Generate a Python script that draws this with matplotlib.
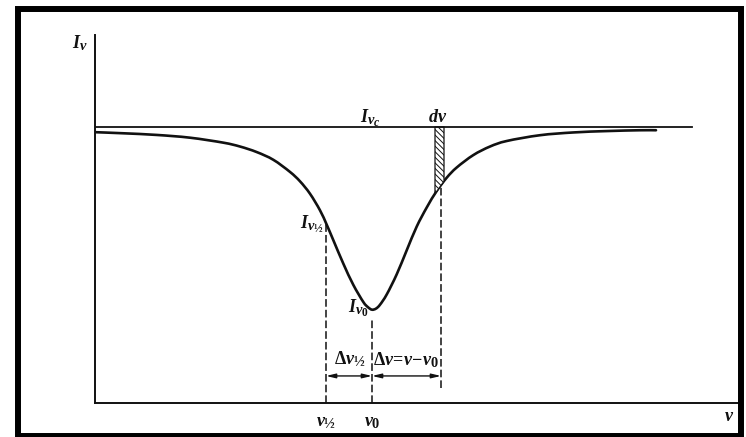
import numpy as np
import matplotlib
matplotlib.use("Agg")
import matplotlib.pyplot as plt
import matplotlib._mathtext as _mt
from matplotlib.patches import Rectangle, PathPatch
from matplotlib.path import Path

# Absorption line profile I(nu), continuum normalised to 1
nu = [0.0, 2.83, 6.17, 9.5, 12.83, 14.5, 16.17, 17.83, 19.5, 20.5, 21.5, 22.5,
      23.17, 23.83, 24.83, 25.83, 26.83, 27.3, 27.7, 28.1, 28.5, 29.17, 30.17,
      31.17, 32.17, 33.17, 34.17, 35.17, 36.17, 37.83, 39.5, 41.17, 44.5,
      47.83, 51.17, 54.5, 56.1]
intensity = [0.981, 0.977, 0.971, 0.961, 0.943, 0.929, 0.909, 0.881, 0.837,
             0.803, 0.758, 0.698, 0.646, 0.590, 0.505, 0.428, 0.366, 0.347,
             0.338, 0.342, 0.356, 0.393, 0.466, 0.553, 0.639, 0.708, 0.768,
             0.816, 0.853, 0.898, 0.929, 0.949, 0.970, 0.980, 0.985, 0.988,
             0.988]

continuum_level = 1.0
continuum_end = 59.7
nu0 = 27.7            # line centre
nu_half = 23.1        # half-intensity frequency
nu_dnu = 34.6         # frequency of the slice d(nu)
dnu_lo, dnu_hi = 34.0, 34.9
I_0 = 0.338
I_half = 0.651

plt.rcParams['mathtext.fontset'] = 'custom'
plt.rcParams['mathtext.rm'] = 'Liberation Serif:bold'
plt.rcParams['mathtext.it'] = 'Liberation Serif:italic:bold'
plt.rcParams['mathtext.bf'] = 'Liberation Serif:bold'
plt.rcParams['hatch.linewidth'] = 0.7
_mt.SHRINK_FACTOR = 0.8   # larger sub/superscripts


def smooth_path(xs, ys):
    """Cubic Bezier path through the points (Catmull-Rom tangents)."""
    p = np.column_stack([xs, ys])
    n = len(p)
    verts = [p[0]]
    codes = [Path.MOVETO]
    for i in range(n - 1):
        p0 = p[i - 1] if i > 0 else p[i]
        p1, p2 = p[i], p[i + 1]
        p3 = p[i + 2] if i + 2 < n else p[i + 1]
        c1 = p1 + (p2 - p0) / 6.0
        c2 = p2 - (p3 - p1) / 6.0
        verts += [c1, c2, p2]
        codes += [Path.CURVE4] * 3
    return Path(verts, codes)


W, H = 746, 437
fig = plt.figure(figsize=(W / 100, H / 100), dpi=100)
fig.patch.set_facecolor('white')

ax = fig.add_axes([95 / W, 1 - 403 / H, (738 - 95) / W, (403 - 35) / H])
ax.set_xlim(0, 64.3)
ax.set_ylim(0, 1.333)
for side in ('top', 'right'):
    ax.spines[side].set_visible(False)
for side in ('left', 'bottom'):
    ax.spines[side].set_linewidth(1.4)
    ax.spines[side].set_color('#111111')
ax.set_xticks([])
ax.set_yticks([])

ink = '#111111'
fs = 13

# continuum and line profile
ax.plot([0, continuum_end], [continuum_level, continuum_level], color=ink, lw=1.3)
ax.add_patch(PathPatch(smooth_path(nu, intensity), facecolor='none',
                       edgecolor=ink, lw=1.9, capstyle='round', joinstyle='round'))

# hatched slice d(nu)
xs = np.array([dnu_lo, dnu_hi])
ax.fill_between(xs, np.interp(xs, nu, intensity), continuum_level,
                facecolor='white', edgecolor=ink, hatch='\\\\\\\\\\\\', lw=0.9)

# guide lines
dash = (0, (5, 2))
ax.plot([nu_half, nu_half], [0, I_half], color=ink, lw=1.1, linestyle=dash)
ax.plot([nu0, nu0], [0, I_0 - 0.03], color=ink, lw=1.1, linestyle=dash)
ax.plot([nu_dnu, nu_dnu], [0.054, np.interp(nu_dnu, nu, intensity)],
        color=ink, lw=1.1, linestyle=dash)

# width arrows
arrow_y = 0.098
arrow_kw = dict(arrowstyle='<|-|>,head_length=0.55,head_width=0.13',
                color=ink, lw=1.0, shrinkA=0, shrinkB=0)
ax.annotate('', xy=(nu_half, arrow_y), xytext=(nu0, arrow_y), arrowprops=arrow_kw)
ax.annotate('', xy=(nu0, arrow_y), xytext=(nu_dnu, arrow_y), arrowprops=arrow_kw)

# labels
ax.text(-1.5, 1.286, r'$I_\nu$', fontsize=fs, ha='center', va='baseline',
        color=ink, clip_on=False)
ax.text(27.5, 1.018, r'$I_{\nu_c}$', fontsize=fs, ha='center', va='baseline', color=ink)
ax.text(34.3, 1.018, r'$d\nu$', fontsize=fs, ha='center', va='baseline', color=ink)
ax.text(22.85, 0.634, r'$I_{\nu_{½}}$', fontsize=fs, ha='right', va='baseline', color=ink)
ax.text(27.35, 0.330, r'$I_{\nu_0}$', fontsize=fs, ha='right', va='baseline', color=ink)
ax.text(25.5, 0.138, r'$\Delta\nu_{½}$', fontsize=fs, ha='center', va='baseline', color=ink)
ax.text(31.15, 0.138, r'$\Delta\nu\!=\!\nu\!-\!\nu_0$', fontsize=fs, ha='center',
        va='baseline', color=ink)
ax.annotate(r'$\nu_{½}$', xy=(nu_half, 0), xytext=(0, -14), textcoords='offset points',
            fontsize=fs, ha='center', va='center', color=ink, annotation_clip=False)
ax.annotate(r'$\nu_0$', xy=(nu0, 0), xytext=(0, -14), textcoords='offset points',
            fontsize=fs, ha='center', va='center', color=ink, annotation_clip=False)
ax.text(63.4, -0.047, r'$\nu$', fontsize=fs, ha='center', va='center', color=ink,
        clip_on=False)

# page frame
fig.patches.append(Rectangle((17.5 / W, 1 - 436 / H), (741 - 17.5) / W, (436 - 9) / H,
                             transform=fig.transFigure, fill=False,
                             edgecolor='black', lw=4.3))

fig.savefig('out.png', dpi=100)
